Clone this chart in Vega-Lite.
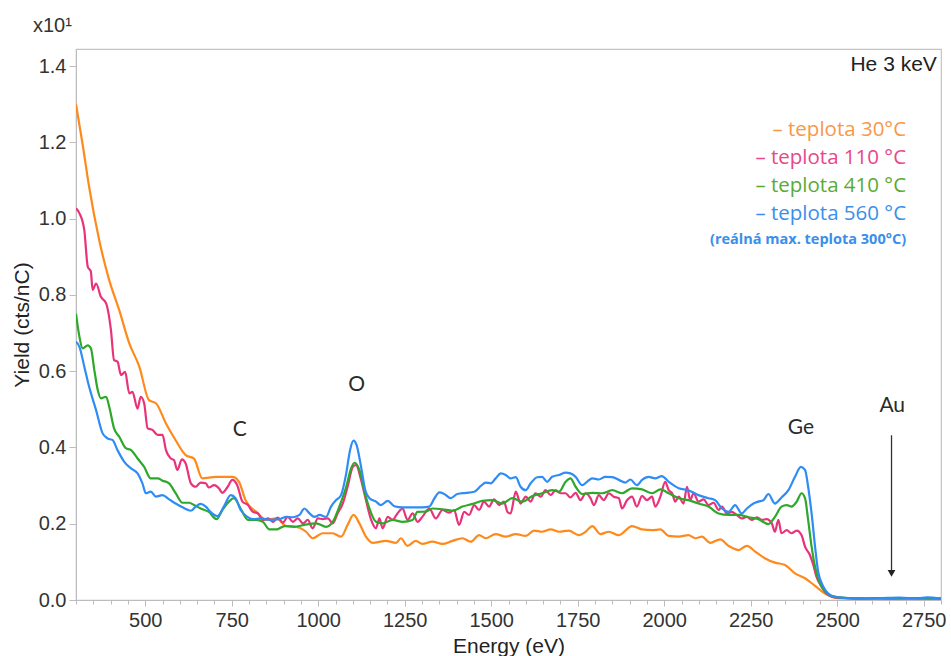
{
  "$schema": "https://vega.github.io/schema/vega-lite/v6.json",
  "width": 865,
  "height": 551,
  "autosize": {"type": "none"},
  "padding": {"left": 76, "top": 49, "right": 10, "bottom": 56},
  "background": "white",
  "config": {"view": {"stroke": "#c4c4c4", "strokeWidth": 1.2}, "font": "Liberation Sans"},
  "title": {"text": "x10¹", "anchor": "start", "frame": "group", "dx": -43, "offset": 13, "fontSize": 20, "fontWeight": "normal", "color": "#333333", "font": "Liberation Sans"},
  "datasets": {
    "spectra": [
      {"s":"a","e":300,"y":1.30},{"s":"a","e":320,"y":1.19},{"s":"a","e":338,"y":1.083},{"s":"a","e":367,"y":0.944},{"s":"a","e":396,"y":0.839},{"s":"a","e":425,"y":0.760},{"s":"a","e":454,"y":0.673},{"s":"a","e":483,"y":0.612},{"s":"a","e":511,"y":0.524},{"s":"a","e":531,"y":0.516},{"s":"a","e":560,"y":0.463},{"s":"a","e":588,"y":0.419},{"s":"a","e":617,"y":0.380},{"s":"a","e":641,"y":0.371},{"s":"a","e":665,"y":0.319},{"s":"a","e":704,"y":0.323},{"s":"a","e":752,"y":0.323},{"s":"a","e":771,"y":0.310},{"s":"a","e":790,"y":0.262},{"s":"a","e":821,"y":0.231},{"s":"a","e":850,"y":0.210},{"s":"a","e":879,"y":0.214},{"s":"a","e":908,"y":0.194},{"s":"a","e":936,"y":0.192},{"s":"a","e":965,"y":0.179},{"s":"a","e":984,"y":0.162},{"s":"a","e":1013,"y":0.175},{"s":"a","e":1042,"y":0.175},{"s":"a","e":1066,"y":0.166},{"s":"a","e":1085,"y":0.197},{"s":"a","e":1102,"y":0.223},{"s":"a","e":1119,"y":0.201},{"s":"a","e":1138,"y":0.166},{"s":"a","e":1157,"y":0.150},{"s":"a","e":1196,"y":0.155},{"s":"a","e":1225,"y":0.150},{"s":"a","e":1239,"y":0.162},{"s":"a","e":1258,"y":0.142},{"s":"a","e":1282,"y":0.155},{"s":"a","e":1301,"y":0.147},{"s":"a","e":1330,"y":0.153},{"s":"a","e":1359,"y":0.147},{"s":"a","e":1388,"y":0.155},{"s":"a","e":1417,"y":0.162},{"s":"a","e":1441,"y":0.153},{"s":"a","e":1465,"y":0.170},{"s":"a","e":1484,"y":0.162},{"s":"a","e":1513,"y":0.173},{"s":"a","e":1542,"y":0.166},{"s":"a","e":1571,"y":0.173},{"s":"a","e":1600,"y":0.168},{"s":"a","e":1624,"y":0.182},{"s":"a","e":1647,"y":0.179},{"s":"a","e":1672,"y":0.185},{"s":"a","e":1696,"y":0.179},{"s":"a","e":1724,"y":0.182},{"s":"a","e":1753,"y":0.170},{"s":"a","e":1773,"y":0.179},{"s":"a","e":1792,"y":0.194},{"s":"a","e":1816,"y":0.173},{"s":"a","e":1840,"y":0.179},{"s":"a","e":1869,"y":0.170},{"s":"a","e":1907,"y":0.194},{"s":"a","e":1936,"y":0.185},{"s":"a","e":1965,"y":0.183},{"s":"a","e":1989,"y":0.185},{"s":"a","e":2013,"y":0.168},{"s":"a","e":2042,"y":0.166},{"s":"a","e":2070,"y":0.170},{"s":"a","e":2090,"y":0.162},{"s":"a","e":2109,"y":0.166},{"s":"a","e":2133,"y":0.150},{"s":"a","e":2162,"y":0.159},{"s":"a","e":2186,"y":0.142},{"s":"a","e":2215,"y":0.131},{"s":"a","e":2239,"y":0.142},{"s":"a","e":2263,"y":0.127},{"s":"a","e":2292,"y":0.109},{"s":"a","e":2320,"y":0.098},{"s":"a","e":2349,"y":0.092},{"s":"a","e":2378,"y":0.070},{"s":"a","e":2407,"y":0.057},{"s":"a","e":2436,"y":0.037},{"s":"a","e":2465,"y":0.017},{"s":"a","e":2489,"y":0.007},{"s":"a","e":2520,"y":0.004},{"s":"a","e":2560,"y":0.003},{"s":"a","e":2600,"y":0.004},{"s":"a","e":2650,"y":0.003},{"s":"a","e":2700,"y":0.004},{"s":"a","e":2750,"y":0.003},{"s":"a","e":2800,"y":0.003},
      {"s":"b","e":300,"y":1.027},{"s":"b","e":310,"y":1.014},{"s":"b","e":324,"y":0.970},{"s":"b","e":334,"y":0.874},{"s":"b","e":343,"y":0.861},{"s":"b","e":348,"y":0.813},{"s":"b","e":358,"y":0.830},{"s":"b","e":372,"y":0.795},{"s":"b","e":387,"y":0.778},{"s":"b","e":401,"y":0.708},{"s":"b","e":410,"y":0.629},{"s":"b","e":420,"y":0.625},{"s":"b","e":430,"y":0.590},{"s":"b","e":442,"y":0.598},{"s":"b","e":454,"y":0.542},{"s":"b","e":463,"y":0.546},{"s":"b","e":478,"y":0.502},{"s":"b","e":487,"y":0.533},{"s":"b","e":497,"y":0.516},{"s":"b","e":507,"y":0.450},{"s":"b","e":521,"y":0.446},{"s":"b","e":536,"y":0.433},{"s":"b","e":550,"y":0.433},{"s":"b","e":560,"y":0.393},{"s":"b","e":574,"y":0.371},{"s":"b","e":583,"y":0.367},{"s":"b","e":593,"y":0.341},{"s":"b","e":606,"y":0.369},{"s":"b","e":617,"y":0.358},{"s":"b","e":632,"y":0.306},{"s":"b","e":646,"y":0.297},{"s":"b","e":660,"y":0.308},{"s":"b","e":675,"y":0.306},{"s":"b","e":684,"y":0.295},{"s":"b","e":699,"y":0.301},{"s":"b","e":713,"y":0.293},{"s":"b","e":723,"y":0.281},{"s":"b","e":737,"y":0.295},{"s":"b","e":752,"y":0.315},{"s":"b","e":766,"y":0.301},{"s":"b","e":781,"y":0.258},{"s":"b","e":797,"y":0.249},{"s":"b","e":811,"y":0.231},{"s":"b","e":826,"y":0.227},{"s":"b","e":840,"y":0.210},{"s":"b","e":855,"y":0.214},{"s":"b","e":869,"y":0.205},{"s":"b","e":883,"y":0.216},{"s":"b","e":898,"y":0.203},{"s":"b","e":912,"y":0.218},{"s":"b","e":927,"y":0.205},{"s":"b","e":941,"y":0.214},{"s":"b","e":956,"y":0.201},{"s":"b","e":970,"y":0.210},{"s":"b","e":984,"y":0.188},{"s":"b","e":999,"y":0.214},{"s":"b","e":1013,"y":0.212},{"s":"b","e":1028,"y":0.214},{"s":"b","e":1042,"y":0.201},{"s":"b","e":1056,"y":0.227},{"s":"b","e":1071,"y":0.253},{"s":"b","e":1085,"y":0.297},{"s":"b","e":1100,"y":0.349},{"s":"b","e":1109,"y":0.354},{"s":"b","e":1124,"y":0.315},{"s":"b","e":1138,"y":0.262},{"s":"b","e":1153,"y":0.210},{"s":"b","e":1167,"y":0.188},{"s":"b","e":1177,"y":0.214},{"s":"b","e":1186,"y":0.188},{"s":"b","e":1201,"y":0.218},{"s":"b","e":1215,"y":0.210},{"s":"b","e":1229,"y":0.227},{"s":"b","e":1244,"y":0.240},{"s":"b","e":1258,"y":0.210},{"s":"b","e":1273,"y":0.227},{"s":"b","e":1287,"y":0.205},{"s":"b","e":1301,"y":0.218},{"s":"b","e":1321,"y":0.240},{"s":"b","e":1340,"y":0.214},{"s":"b","e":1359,"y":0.236},{"s":"b","e":1378,"y":0.229},{"s":"b","e":1393,"y":0.236},{"s":"b","e":1407,"y":0.197},{"s":"b","e":1422,"y":0.231},{"s":"b","e":1436,"y":0.223},{"s":"b","e":1451,"y":0.249},{"s":"b","e":1465,"y":0.236},{"s":"b","e":1479,"y":0.258},{"s":"b","e":1494,"y":0.245},{"s":"b","e":1508,"y":0.264},{"s":"b","e":1523,"y":0.249},{"s":"b","e":1537,"y":0.258},{"s":"b","e":1547,"y":0.231},{"s":"b","e":1556,"y":0.227},{"s":"b","e":1571,"y":0.284},{"s":"b","e":1585,"y":0.253},{"s":"b","e":1600,"y":0.271},{"s":"b","e":1614,"y":0.258},{"s":"b","e":1628,"y":0.280},{"s":"b","e":1643,"y":0.271},{"s":"b","e":1657,"y":0.288},{"s":"b","e":1672,"y":0.275},{"s":"b","e":1686,"y":0.288},{"s":"b","e":1700,"y":0.280},{"s":"b","e":1715,"y":0.280},{"s":"b","e":1729,"y":0.269},{"s":"b","e":1744,"y":0.281},{"s":"b","e":1758,"y":0.262},{"s":"b","e":1773,"y":0.280},{"s":"b","e":1787,"y":0.267},{"s":"b","e":1797,"y":0.249},{"s":"b","e":1811,"y":0.275},{"s":"b","e":1825,"y":0.262},{"s":"b","e":1840,"y":0.280},{"s":"b","e":1854,"y":0.271},{"s":"b","e":1869,"y":0.267},{"s":"b","e":1878,"y":0.240},{"s":"b","e":1893,"y":0.262},{"s":"b","e":1907,"y":0.271},{"s":"b","e":1921,"y":0.245},{"s":"b","e":1936,"y":0.273},{"s":"b","e":1950,"y":0.262},{"s":"b","e":1965,"y":0.271},{"s":"b","e":1974,"y":0.245},{"s":"b","e":1989,"y":0.271},{"s":"b","e":2003,"y":0.310},{"s":"b","e":2013,"y":0.288},{"s":"b","e":2023,"y":0.280},{"s":"b","e":2032,"y":0.258},{"s":"b","e":2042,"y":0.271},{"s":"b","e":2056,"y":0.253},{"s":"b","e":2066,"y":0.297},{"s":"b","e":2075,"y":0.262},{"s":"b","e":2085,"y":0.280},{"s":"b","e":2099,"y":0.258},{"s":"b","e":2114,"y":0.264},{"s":"b","e":2128,"y":0.249},{"s":"b","e":2143,"y":0.255},{"s":"b","e":2157,"y":0.236},{"s":"b","e":2167,"y":0.245},{"s":"b","e":2181,"y":0.227},{"s":"b","e":2195,"y":0.231},{"s":"b","e":2210,"y":0.223},{"s":"b","e":2224,"y":0.214},{"s":"b","e":2239,"y":0.218},{"s":"b","e":2253,"y":0.210},{"s":"b","e":2268,"y":0.217},{"s":"b","e":2282,"y":0.210},{"s":"b","e":2296,"y":0.212},{"s":"b","e":2311,"y":0.201},{"s":"b","e":2320,"y":0.179},{"s":"b","e":2330,"y":0.210},{"s":"b","e":2339,"y":0.175},{"s":"b","e":2354,"y":0.183},{"s":"b","e":2368,"y":0.175},{"s":"b","e":2383,"y":0.182},{"s":"b","e":2397,"y":0.170},{"s":"b","e":2407,"y":0.140},{"s":"b","e":2421,"y":0.118},{"s":"b","e":2431,"y":0.092},{"s":"b","e":2440,"y":0.061},{"s":"b","e":2455,"y":0.035},{"s":"b","e":2469,"y":0.017},{"s":"b","e":2493,"y":0.007},{"s":"b","e":2530,"y":0.005},{"s":"b","e":2570,"y":0.004},{"s":"b","e":2620,"y":0.005},{"s":"b","e":2670,"y":0.004},{"s":"b","e":2720,"y":0.005},{"s":"b","e":2770,"y":0.004},{"s":"b","e":2800,"y":0.004},
      {"s":"c","e":300,"y":0.751},{"s":"c","e":310,"y":0.690},{"s":"c","e":319,"y":0.660},{"s":"c","e":334,"y":0.668},{"s":"c","e":343,"y":0.660},{"s":"c","e":353,"y":0.603},{"s":"c","e":363,"y":0.550},{"s":"c","e":372,"y":0.529},{"s":"c","e":387,"y":0.533},{"s":"c","e":396,"y":0.507},{"s":"c","e":410,"y":0.450},{"s":"c","e":425,"y":0.428},{"s":"c","e":444,"y":0.398},{"s":"c","e":459,"y":0.393},{"s":"c","e":478,"y":0.371},{"s":"c","e":497,"y":0.349},{"s":"c","e":516,"y":0.319},{"s":"c","e":536,"y":0.319},{"s":"c","e":550,"y":0.313},{"s":"c","e":569,"y":0.306},{"s":"c","e":588,"y":0.280},{"s":"c","e":608,"y":0.255},{"s":"c","e":627,"y":0.255},{"s":"c","e":641,"y":0.249},{"s":"c","e":660,"y":0.240},{"s":"c","e":684,"y":0.231},{"s":"c","e":706,"y":0.212},{"s":"c","e":723,"y":0.236},{"s":"c","e":742,"y":0.258},{"s":"c","e":756,"y":0.267},{"s":"c","e":778,"y":0.236},{"s":"c","e":797,"y":0.210},{"s":"c","e":821,"y":0.210},{"s":"c","e":840,"y":0.205},{"s":"c","e":859,"y":0.185},{"s":"c","e":879,"y":0.185},{"s":"c","e":903,"y":0.194},{"s":"c","e":931,"y":0.192},{"s":"c","e":960,"y":0.197},{"s":"c","e":994,"y":0.201},{"s":"c","e":1023,"y":0.192},{"s":"c","e":1042,"y":0.205},{"s":"c","e":1061,"y":0.245},{"s":"c","e":1081,"y":0.297},{"s":"c","e":1095,"y":0.345},{"s":"c","e":1105,"y":0.360},{"s":"c","e":1119,"y":0.341},{"s":"c","e":1133,"y":0.288},{"s":"c","e":1148,"y":0.240},{"s":"c","e":1167,"y":0.205},{"s":"c","e":1186,"y":0.201},{"s":"c","e":1215,"y":0.210},{"s":"c","e":1244,"y":0.205},{"s":"c","e":1273,"y":0.210},{"s":"c","e":1287,"y":0.231},{"s":"c","e":1311,"y":0.232},{"s":"c","e":1330,"y":0.240},{"s":"c","e":1359,"y":0.238},{"s":"c","e":1388,"y":0.234},{"s":"c","e":1417,"y":0.245},{"s":"c","e":1446,"y":0.252},{"s":"c","e":1474,"y":0.260},{"s":"c","e":1503,"y":0.262},{"s":"c","e":1532,"y":0.253},{"s":"c","e":1561,"y":0.267},{"s":"c","e":1590,"y":0.258},{"s":"c","e":1619,"y":0.273},{"s":"c","e":1647,"y":0.280},{"s":"c","e":1676,"y":0.288},{"s":"c","e":1696,"y":0.284},{"s":"c","e":1715,"y":0.310},{"s":"c","e":1729,"y":0.319},{"s":"c","e":1744,"y":0.297},{"s":"c","e":1763,"y":0.278},{"s":"c","e":1792,"y":0.281},{"s":"c","e":1821,"y":0.280},{"s":"c","e":1850,"y":0.288},{"s":"c","e":1878,"y":0.280},{"s":"c","e":1907,"y":0.293},{"s":"c","e":1936,"y":0.290},{"s":"c","e":1965,"y":0.280},{"s":"c","e":1989,"y":0.290},{"s":"c","e":2013,"y":0.280},{"s":"c","e":2042,"y":0.267},{"s":"c","e":2070,"y":0.262},{"s":"c","e":2099,"y":0.253},{"s":"c","e":2128,"y":0.245},{"s":"c","e":2157,"y":0.227},{"s":"c","e":2186,"y":0.223},{"s":"c","e":2215,"y":0.223},{"s":"c","e":2244,"y":0.217},{"s":"c","e":2272,"y":0.212},{"s":"c","e":2301,"y":0.199},{"s":"c","e":2320,"y":0.218},{"s":"c","e":2339,"y":0.245},{"s":"c","e":2354,"y":0.249},{"s":"c","e":2368,"y":0.245},{"s":"c","e":2383,"y":0.258},{"s":"c","e":2397,"y":0.280},{"s":"c","e":2407,"y":0.267},{"s":"c","e":2416,"y":0.210},{"s":"c","e":2426,"y":0.140},{"s":"c","e":2436,"y":0.087},{"s":"c","e":2450,"y":0.044},{"s":"c","e":2465,"y":0.022},{"s":"c","e":2484,"y":0.011},{"s":"c","e":2503,"y":0.007},{"s":"c","e":2540,"y":0.005},{"s":"c","e":2590,"y":0.004},{"s":"c","e":2640,"y":0.005},{"s":"c","e":2690,"y":0.004},{"s":"c","e":2740,"y":0.005},{"s":"c","e":2800,"y":0.004},
      {"s":"d","e":300,"y":0.677},{"s":"d","e":310,"y":0.664},{"s":"d","e":324,"y":0.612},{"s":"d","e":338,"y":0.559},{"s":"d","e":358,"y":0.498},{"s":"d","e":377,"y":0.437},{"s":"d","e":391,"y":0.424},{"s":"d","e":406,"y":0.419},{"s":"d","e":420,"y":0.393},{"s":"d","e":439,"y":0.363},{"s":"d","e":459,"y":0.345},{"s":"d","e":478,"y":0.332},{"s":"d","e":492,"y":0.306},{"s":"d","e":502,"y":0.280},{"s":"d","e":516,"y":0.284},{"s":"d","e":531,"y":0.271},{"s":"d","e":550,"y":0.275},{"s":"d","e":569,"y":0.264},{"s":"d","e":588,"y":0.253},{"s":"d","e":608,"y":0.243},{"s":"d","e":632,"y":0.234},{"s":"d","e":646,"y":0.245},{"s":"d","e":660,"y":0.252},{"s":"d","e":675,"y":0.245},{"s":"d","e":689,"y":0.231},{"s":"d","e":709,"y":0.220},{"s":"d","e":728,"y":0.246},{"s":"d","e":747,"y":0.275},{"s":"d","e":761,"y":0.267},{"s":"d","e":776,"y":0.236},{"s":"d","e":795,"y":0.218},{"s":"d","e":811,"y":0.212},{"s":"d","e":835,"y":0.214},{"s":"d","e":859,"y":0.210},{"s":"d","e":888,"y":0.212},{"s":"d","e":908,"y":0.218},{"s":"d","e":927,"y":0.217},{"s":"d","e":946,"y":0.223},{"s":"d","e":960,"y":0.240},{"s":"d","e":975,"y":0.227},{"s":"d","e":989,"y":0.218},{"s":"d","e":1004,"y":0.223},{"s":"d","e":1023,"y":0.218},{"s":"d","e":1037,"y":0.245},{"s":"d","e":1052,"y":0.262},{"s":"d","e":1066,"y":0.275},{"s":"d","e":1081,"y":0.332},{"s":"d","e":1092,"y":0.393},{"s":"d","e":1102,"y":0.418},{"s":"d","e":1111,"y":0.406},{"s":"d","e":1124,"y":0.349},{"s":"d","e":1136,"y":0.288},{"s":"d","e":1148,"y":0.267},{"s":"d","e":1167,"y":0.258},{"s":"d","e":1181,"y":0.249},{"s":"d","e":1201,"y":0.260},{"s":"d","e":1220,"y":0.246},{"s":"d","e":1244,"y":0.243},{"s":"d","e":1273,"y":0.243},{"s":"d","e":1301,"y":0.243},{"s":"d","e":1321,"y":0.245},{"s":"d","e":1335,"y":0.265},{"s":"d","e":1350,"y":0.282},{"s":"d","e":1364,"y":0.278},{"s":"d","e":1383,"y":0.267},{"s":"d","e":1402,"y":0.278},{"s":"d","e":1427,"y":0.281},{"s":"d","e":1451,"y":0.284},{"s":"d","e":1470,"y":0.299},{"s":"d","e":1484,"y":0.308},{"s":"d","e":1499,"y":0.306},{"s":"d","e":1513,"y":0.319},{"s":"d","e":1528,"y":0.332},{"s":"d","e":1542,"y":0.328},{"s":"d","e":1556,"y":0.319},{"s":"d","e":1571,"y":0.322},{"s":"d","e":1585,"y":0.297},{"s":"d","e":1600,"y":0.288},{"s":"d","e":1614,"y":0.306},{"s":"d","e":1633,"y":0.322},{"s":"d","e":1647,"y":0.323},{"s":"d","e":1662,"y":0.310},{"s":"d","e":1676,"y":0.323},{"s":"d","e":1696,"y":0.328},{"s":"d","e":1715,"y":0.334},{"s":"d","e":1729,"y":0.332},{"s":"d","e":1744,"y":0.323},{"s":"d","e":1763,"y":0.301},{"s":"d","e":1777,"y":0.310},{"s":"d","e":1792,"y":0.319},{"s":"d","e":1811,"y":0.316},{"s":"d","e":1830,"y":0.323},{"s":"d","e":1850,"y":0.322},{"s":"d","e":1869,"y":0.315},{"s":"d","e":1888,"y":0.308},{"s":"d","e":1902,"y":0.316},{"s":"d","e":1921,"y":0.301},{"s":"d","e":1936,"y":0.315},{"s":"d","e":1955,"y":0.323},{"s":"d","e":1974,"y":0.319},{"s":"d","e":1993,"y":0.325},{"s":"d","e":2013,"y":0.310},{"s":"d","e":2042,"y":0.293},{"s":"d","e":2070,"y":0.288},{"s":"d","e":2099,"y":0.275},{"s":"d","e":2128,"y":0.267},{"s":"d","e":2147,"y":0.262},{"s":"d","e":2167,"y":0.240},{"s":"d","e":2186,"y":0.231},{"s":"d","e":2205,"y":0.249},{"s":"d","e":2224,"y":0.227},{"s":"d","e":2239,"y":0.240},{"s":"d","e":2258,"y":0.253},{"s":"d","e":2272,"y":0.258},{"s":"d","e":2287,"y":0.262},{"s":"d","e":2301,"y":0.278},{"s":"d","e":2320,"y":0.253},{"s":"d","e":2339,"y":0.269},{"s":"d","e":2359,"y":0.288},{"s":"d","e":2378,"y":0.323},{"s":"d","e":2395,"y":0.349},{"s":"d","e":2407,"y":0.341},{"s":"d","e":2416,"y":0.297},{"s":"d","e":2426,"y":0.227},{"s":"d","e":2436,"y":0.140},{"s":"d","e":2445,"y":0.074},{"s":"d","e":2460,"y":0.035},{"s":"d","e":2474,"y":0.017},{"s":"d","e":2493,"y":0.008},{"s":"d","e":2530,"y":0.005},{"s":"d","e":2580,"y":0.004},{"s":"d","e":2630,"y":0.005},{"s":"d","e":2680,"y":0.006},{"s":"d","e":2730,"y":0.004},{"s":"d","e":2760,"y":0.007},{"s":"d","e":2800,"y":0.004}
    ],
    "peaks": [
      {"t":"C","e":773,"y":0.446},
      {"t":"O","e":1111,"y":0.564},
      {"t":"Ge","e":2395,"y":0.450},
      {"t":"Au","e":2659,"y":0.509}
    ],
    "legendText": [
      {"s":"a","t":"– teplota 30°C","e":2699,"y":1.232},
      {"s":"b","t":"– teplota 110 °C","e":2699,"y":1.159},
      {"s":"c","t":"– teplota 410 °C","e":2699,"y":1.085},
      {"s":"d","t":"– teplota 560 °C","e":2699,"y":1.012}
    ],
    "note": [{"t":"(reálná max. teplota 300°C)","e":2699,"y":0.944}],
    "beam": [{"t":"He 3 keV","e":2788,"y":1.402}],
    "arrow": [{"e":2657,"y":0.432,"y2":0.075}],
    "head": [{"e":2657,"y":0.070}]
  },
  "layer": [
    {
      "data": {"name": "spectra"},
      "mark": {"type": "line", "strokeWidth": 2.2, "interpolate": "monotone", "clip": true},
      "encoding": {
        "x": {"field": "e", "type": "quantitative", "title": "Energy (eV)",
          "scale": {"domain": [300, 2800], "nice": false, "zero": false},
          "axis": {"orient": "bottom", "values": [500, 750, 1000, 1250, 1500, 1750, 2000, 2250, 2500, 2750],
            "format": "d", "grid": false, "domainColor": "#bcbcbc", "tickColor": "#bcbcbc", "tickSize": 6,
            "labelFontSize": 20, "labelColor": "#333333", "labelPadding": 4, "labelOverlap": false, "labelFlush": false,
            "titleFontSize": 21, "titleColor": "#222222", "titleFontWeight": "normal", "titlePadding": 5}},
        "y": {"field": "y", "type": "quantitative", "title": "Yield (cts/nC)",
          "scale": {"domain": [0, 1.445], "nice": false},
          "axis": {"values": [0, 0.2, 0.4, 0.6, 0.8, 1.0, 1.2, 1.4], "format": ".1f", "grid": false,
            "domainColor": "#bcbcbc", "tickColor": "#bcbcbc", "tickSize": 7,
            "labelFontSize": 20, "labelColor": "#333333", "labelPadding": 3,
            "titleFontSize": 21, "titleColor": "#222222", "titleFontWeight": "normal", "titlePadding": 6}},
        "color": {"field": "s", "type": "nominal", "legend": null,
          "scale": {"domain": ["a", "b", "c", "d"], "range": ["#ff8a1c", "#e8337a", "#2ea82a", "#2f8cf5"]}}
      }
    },
    {
      "data": {"name": "peaks"},
      "mark": {"type": "text", "fontSize": 21, "font": "Lato", "color": "#2a2a2a", "align": "center", "baseline": "middle"},
      "encoding": {
        "x": {"field": "e", "type": "quantitative",
          "axis": {"orient": "bottom", "values": [300,350,400,450,550,600,650,700,800,850,900,950,1050,1100,1150,1200,1300,1350,1400,1450,1550,1600,1650,1700,1800,1850,1900,1950,2050,2100,2150,2200,2300,2350,2400,2450,2550,2600,2650,2700,2800],
            "labels": false, "domain": false, "grid": false, "tickColor": "#bcbcbc", "tickSize": 4, "title": null}},
        "y": {"field": "y", "type": "quantitative"},
        "text": {"field": "t"}
      }
    },
    {
      "data": {"name": "arrow"},
      "mark": {"type": "rule", "color": "#333333", "strokeWidth": 1.3},
      "encoding": {
        "x": {"field": "e", "type": "quantitative", "axis": null},
        "y": {"field": "y", "type": "quantitative"},
        "y2": {"field": "y2"}
      }
    },
    {
      "data": {"name": "head"},
      "mark": {"type": "point", "shape": "triangle-down", "filled": true, "size": 60, "color": "#222222", "opacity": 1},
      "encoding": {
        "x": {"field": "e", "type": "quantitative", "axis": null},
        "y": {"field": "y", "type": "quantitative"}
      }
    },
    {
      "data": {"name": "beam"},
      "mark": {"type": "text", "fontSize": 21, "font": "Liberation Sans", "color": "#222222", "align": "right", "baseline": "middle"},
      "encoding": {
        "x": {"field": "e", "type": "quantitative", "axis": null},
        "y": {"field": "y", "type": "quantitative"},
        "text": {"field": "t"}
      }
    },
    {
      "data": {"name": "legendText"},
      "mark": {"type": "text", "fontSize": 20.5, "font": "Open Sans", "align": "right", "baseline": "middle"},
      "encoding": {
        "x": {"field": "e", "type": "quantitative", "axis": null},
        "y": {"field": "y", "type": "quantitative"},
        "text": {"field": "t"},
        "color": {"field": "s", "type": "nominal", "legend": null,
          "scale": {"domain": ["a", "b", "c", "d"], "range": ["#f7984a", "#e8478a", "#5aab33", "#3a8fec"]}}
      }
    },
    {
      "data": {"name": "note"},
      "mark": {"type": "text", "fontSize": 14.5, "font": "Open Sans", "fontWeight": "bold", "color": "#3a8fec", "align": "right", "baseline": "middle"},
      "encoding": {
        "x": {"field": "e", "type": "quantitative", "axis": null},
        "y": {"field": "y", "type": "quantitative"},
        "text": {"field": "t"}
      }
    }
  ],
  "resolve": {"scale": {"color": "independent"}, "axis": {"x": "independent"}}
}
